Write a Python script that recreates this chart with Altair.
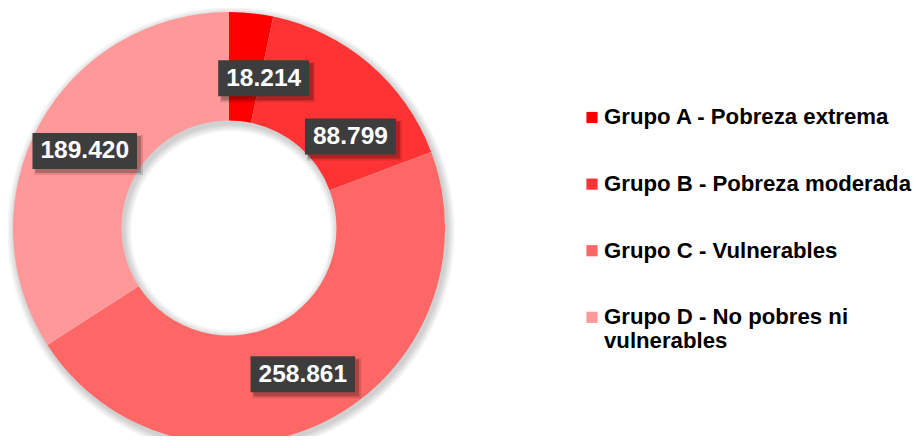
import altair as alt
import pandas as pd

# ---- data ----
categories = [
    "Grupo A - Pobreza extrema",
    "Grupo B - Pobreza moderada",
    "Grupo C - Vulnerables",
    "Grupo D - No pobres ni vulnerables",
]
values = [18214, 88799, 258861, 189420]
colors = ["#FF0000", "#FF3333", "#FF6666", "#FF9999"]

# ---- layout / style ----
W, H = 906, 428
CX, CY = 221, 220
R_OUT, R_IN = 216, 107.5
LABEL_R = 162
FS = 24.5
PADX = 8
BOX_HALF = 18
label_nudge = {
    categories[0]: (18, 12),
    categories[1]: (16, 32),
    categories[2]: (1, 2),
    categories[3]: (-2, 1),
}
LEG_SYM_X, LEG_TXT_X, LEG_Y0, LEG_STEP = 584, 596, 109.5, 66.6
LEG_FS = 22.2
FONT = "Liberation Sans"

df = pd.DataFrame({"cat": categories, "value": values, "ord": list(range(1, len(categories) + 1))})
base = alt.Chart(df)

color = alt.Color("cat:N", scale=alt.Scale(domain=categories, range=colors), legend=None)


def nudge_expr(idx):
    parts = []
    for c, v in label_nudge.items():
        parts.append(f"datum.cat === '{c}' ? {v[idx]}")
    return " : ".join(parts) + " : 0"


# soft shadow under the donut
one = base.transform_filter(alt.datum.ord == 1)
shadows = []
for k in range(1, 9):
    shadows.append(
        one.mark_arc(
            theta=0, theta2=6.2832, innerRadius=R_IN - k, outerRadius=R_OUT + k,
            color="#000000", opacity=0.022,
        ).encode(x=alt.value(CX + 2), y=alt.value(CY + 3))
    )

donut = base.mark_arc(innerRadius=R_IN, outerRadius=R_OUT).encode(
    theta=alt.Theta("value:Q", stack=True),
    order=alt.Order("ord:Q"),
    color=color,
    x=alt.value(CX),
    y=alt.value(CY),
)

lab = (
    base.transform_window(cum="sum(value)", sort=[alt.SortField("ord")], frame=[None, 0])
    .transform_joinaggregate(total="sum(value)")
    .transform_calculate(mid="2*PI*(datum.cum - datum.value/2)/datum.total")
    .transform_calculate(nx=nudge_expr(0))
    .transform_calculate(ny=nudge_expr(1))
    .transform_calculate(label="replace(format(datum.value, ','), ',', '.')")
    .transform_calculate(lx=f"{CX} + {LABEL_R}*sin(datum.mid) + datum.nx")
    .transform_calculate(ly=f"{CY} - {LABEL_R}*cos(datum.mid) + datum.ny")
    .transform_calculate(hw=f"((length(datum.label)-1)*0.556 + 0.278)*{FS}/2 + {PADX}")
    .transform_calculate(bx1="datum.lx - datum.hw")
    .transform_calculate(bx2="datum.lx + datum.hw")
    .transform_calculate(by1=f"datum.ly - {BOX_HALF} - 0.5")
    .transform_calculate(by2=f"datum.ly + {BOX_HALF} - 0.5")
    .transform_calculate(sx1="datum.bx1 + 3", sx2="datum.bx2 + 4")
    .transform_calculate(sy1="datum.by1 + 3", sy2="datum.by2 + 4")
    .transform_calculate(tx1="datum.bx1 + 2", tx2="datum.bx2 + 6")
    .transform_calculate(ty1="datum.by1 + 2", ty2="datum.by2 + 6")
)

box_shadow2 = lab.mark_rect(color="#000000", opacity=0.12).encode(
    x=alt.X("tx1:Q", scale=None, axis=None), x2="tx2:Q",
    y=alt.Y("ty1:Q", scale=None, axis=None), y2="ty2:Q",
)
box_shadow = lab.mark_rect(color="#000000", opacity=0.22).encode(
    x=alt.X("sx1:Q", scale=None, axis=None), x2="sx2:Q",
    y=alt.Y("sy1:Q", scale=None, axis=None), y2="sy2:Q",
)
boxes = lab.mark_rect(color="#3d3d3d").encode(
    x=alt.X("bx1:Q", scale=None, axis=None), x2="bx2:Q",
    y=alt.Y("by1:Q", scale=None, axis=None), y2="by2:Q",
)
texts = lab.mark_text(
    font=FONT, fontSize=FS, fontWeight="bold", color="#FFFFFF",
    align="center", baseline="middle",
).encode(
    x=alt.X("lx:Q", scale=None, axis=None),
    y=alt.Y("ly:Q", scale=None, axis=None),
    text="label:N",
)

leg = base.transform_calculate(
    ly=f"{LEG_Y0} + {LEG_STEP}*(datum.ord - 1)"
).transform_calculate(
    txt="replace(datum.cat, ' vulnerables', '|vulnerables')"
)
leg_sym = leg.mark_square(size=125, opacity=1).encode(
    x=alt.value(LEG_SYM_X),
    y=alt.Y("ly:Q", scale=None, axis=None),
    color=color,
)
leg_txt = leg.mark_text(
    font=FONT, fontSize=LEG_FS, fontWeight="bold", color="#000000",
    align="left", baseline="top", dy=-11.2, lineBreak="|", lineHeight=23.5,
).encode(
    x=alt.value(LEG_TXT_X),
    y=alt.Y("ly:Q", scale=None, axis=None),
    text="txt:N",
)

chart = alt.layer(
    *shadows, donut, box_shadow2, box_shadow, boxes, texts, leg_sym, leg_txt
).properties(
    width=W, height=H, autosize=alt.AutoSizeParams(type="none"), padding=0,
).configure_view(stroke=None)

chart.save("out.html", embed_options={"renderer": "svg", "actions": False})
